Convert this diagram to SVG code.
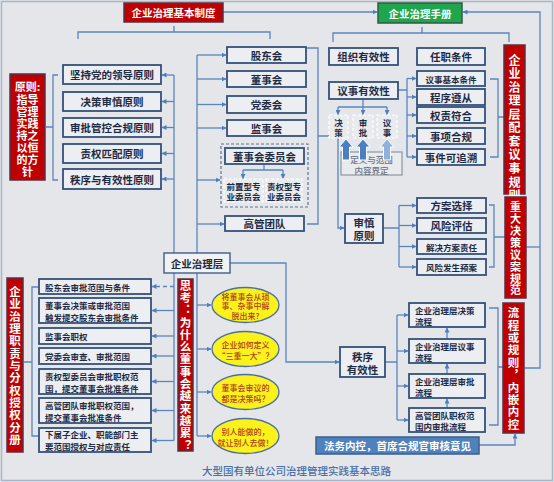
<svg xmlns="http://www.w3.org/2000/svg" width="554" height="482" viewBox="0 0 554 482">
<defs>
<style>
.bx{fill:#eceef2;stroke:#34507a;stroke-width:1.8}
.dbx{fill:#e9ebef;stroke:#ffffff;stroke-width:1.2;stroke-dasharray:3 2}
.red{fill:#c00000;stroke:#5a3045;stroke-width:1.5}
.c{fill:none;stroke:#5a86c0;stroke-width:1.3}
.ca{fill:none;stroke:#5a86c0;stroke-width:1.3;marker-end:url(#ah)}
.t{font-family:"Noto Sans CJK SC","Noto Sans",sans-serif;fill:#1e2b45;font-weight:700;font-size:10.5px;text-anchor:middle;dominant-baseline:central}
.s{font-size:8.5px}
.l{text-anchor:start}
.w{fill:#ffffff}
.vt{font-family:"Noto Sans CJK SC","Noto Sans",sans-serif;fill:#ffffff;font-weight:700;writing-mode:vertical-rl;text-anchor:start}
.e{fill:#fbf21c;stroke:#4a6fa5;stroke-width:1.3}
.et{font-size:8px;fill:#b0401e;font-weight:500}
.ua{fill:#4a7fc1;stroke:#ffffff;stroke-width:1}
</style>
<marker id="ah" viewBox="0 0 10 10" refX="9" refY="5" markerWidth="5" markerHeight="5" markerUnits="userSpaceOnUse" orient="auto">
<path d="M0,0 L10,5 L0,10 z" fill="#4f7fc0"/>
</marker>
</defs>
<rect x="0" y="0" width="554" height="482" fill="#e4e6e9"/>
<rect x="1.5" y="1.5" width="551" height="479" fill="none" stroke="#a8b6c9" stroke-width="1.5"/>

<g id="connectors">
<path class="ca" d="M223,12 H377"/>
<path class="ca" d="M525,368 H540 V12 H463"/>
<path class="c" d="M526,247 H540"/>
<path class="c" d="M78,39 V32 H270 V39 M174,26 V32"/>
<path class="c" d="M333,42 V33 H509 V42 M422,27 V33"/>
<path class="c" d="M174,75 V253"/>
<path class="ca" d="M174,75 H162"/>
<path class="ca" d="M174,101.5 H162"/>
<path class="ca" d="M174,127.5 H162"/>
<path class="ca" d="M174,153.5 H162"/>
<path class="ca" d="M174,179 H162"/>
<path class="c" d="M197,55 V253"/>
<path class="ca" d="M197,55 H226"/>
<path class="ca" d="M197,79 H226"/>
<path class="ca" d="M197,104.5 H226"/>
<path class="ca" d="M197,128 H226"/>
<path class="ca" d="M197,180 H220"/>
<path class="ca" d="M197,224 H224"/>
<path class="c" d="M58,75 H53 V180 H58 M53,127 H46"/>
<path class="c" d="M307,48 H318 V224 H307 M318,136 H329"/>
<path class="c" d="M264,164 V170 M243,170 H283"/>
<path class="ca" d="M243,170 V178.5"/>
<path class="ca" d="M283,170 V178.5"/>
<path class="c" d="M363,99 V107 M338,107 H387"/>
<path class="ca" d="M338,107 V114.5"/>
<path class="ca" d="M363,107 V114.5"/>
<path class="ca" d="M387,107 V114.5"/>
<path class="ca" d="M338,138 V228 H344"/>
<path class="c" d="M398,90 H407 M407,78.5 V157"/>
<path class="ca" d="M407,78.5 H416"/>
<path class="ca" d="M407,97 H416"/>
<path class="ca" d="M407,115 H416"/>
<path class="ca" d="M407,136 H416"/>
<path class="ca" d="M407,157 H416"/>
<path class="c" d="M490,79 H498 V157 H490 M498,117 H504"/>
<path class="c" d="M383,228 H399 M399,205.5 V267"/>
<path class="ca" d="M399,205.5 H416"/>
<path class="ca" d="M399,225.5 H416"/>
<path class="ca" d="M399,246.5 H416"/>
<path class="ca" d="M399,267 H416"/>
<path class="c" d="M489,205 H494 V267 H489 M494,237 H505"/>
<path class="ca" d="M230,263 H286 V362 H339"/>
<path class="c" d="M385,362 H397 M397,315 V420"/>
<path class="ca" d="M397,315 H408"/>
<path class="ca" d="M397,351 H408"/>
<path class="ca" d="M397,386 H408"/>
<path class="ca" d="M397,420 H408"/>
<path class="ca" d="M447,408 V399"/>
<path class="ca" d="M447,374 V364"/>
<path class="ca" d="M447,339 V328"/>
<path class="c" d="M489,308 H498 V425 H489 M498,367 H503"/>
<path class="ca" d="M479,445 H515 V434"/>
<path class="c" d="M174,273 V440.5"/>
<path class="ca" d="M174,286.5 H152" stroke-dasharray="4 3"/>
<path class="ca" d="M174,310.5 H152"/>
<path class="ca" d="M174,336 H152"/>
<path class="ca" d="M174,356 H152"/>
<path class="ca" d="M174,381.5 H152"/>
<path class="ca" d="M174,410.5 H152"/>
<path class="ca" d="M174,440.5 H152"/>
<path class="c" d="M197,273 V436"/>
<path class="ca" d="M197,305 H211"/>
<path class="ca" d="M197,349 H211"/>
<path class="ca" d="M197,392 H211"/>
<path class="ca" d="M197,436 H211"/>
<path class="c" d="M40,287 H32 V436 H40 M32,362 H24"/>
</g>

<g id="n-jbzd"><rect x="124" y="3" width="99" height="19" class="red"/><text class="t w" x="173.5" y="12.5">企业治理基本制度</text></g>
<g id="n-sc"><rect x="378" y="3" width="84" height="20" fill="#1fa64d" stroke="#2f5a45" stroke-width="1.5"/><text class="t w" x="420" y="13">企业治理手册</text></g>

<g id="n-yz"><rect x="10" y="74" width="35" height="106" class="red"/>
<text class="t w" style="font-size:11px"><tspan x="27.5" y="86">原则:</tspan><tspan x="27.5" y="98.5">指导</tspan><tspan x="27.5" y="110.5">管理</tspan><tspan x="27.5" y="122.5">实践</tspan><tspan x="27.5" y="135">持之</tspan><tspan x="27.5" y="147">以恒</tspan><tspan x="27.5" y="159">的方</tspan><tspan x="27.5" y="171">针</tspan></text></g>

<g id="n-p1"><rect x="63" y="65" width="98" height="19" class="bx"/><text class="t" x="112" y="74.5">坚持党的领导原则</text></g>
<g id="n-p2"><rect x="63" y="92" width="98" height="19" class="bx"/><text class="t" x="112" y="101.5">决策审慎原则</text></g>
<g id="n-p3"><rect x="63" y="118" width="98" height="19" class="bx"/><text class="t" x="112" y="127.5">审批管控合规原则</text></g>
<g id="n-p4"><rect x="63" y="144" width="98" height="19" class="bx"/><text class="t" x="112" y="153.5">责权匹配原则</text></g>
<g id="n-p5"><rect x="63" y="169" width="98" height="20" class="bx"/><text class="t" x="112" y="179">秩序与有效性原则</text></g>

<g id="n-gdh"><rect x="227" y="47" width="79" height="16" class="bx"/><text class="t" x="266.5" y="55">股东会</text></g>
<g id="n-dsh"><rect x="227" y="71" width="79" height="16" class="bx"/><text class="t" x="266.5" y="79">董事会</text></g>
<g id="n-dwh"><rect x="227" y="96" width="79" height="17" class="bx"/><text class="t" x="266.5" y="104.5">党委会</text></g>
<g id="n-jsh"><rect x="227" y="120" width="79" height="16" class="bx"/><text class="t" x="266.5" y="128">监事会</text></g>

<g id="n-wyh">
<rect x="221" y="144" width="87" height="63" fill="none" stroke="#5d7396" stroke-width="1.2" stroke-dasharray="3 2"/>
<rect x="225" y="148" width="79" height="16" class="bx"/><text class="t" x="264.5" y="156">董事会委员会</text>
</g>
<g id="n-qzx"><rect x="224" y="179" width="39" height="23" class="dbx"/><text class="t s"><tspan x="243.5" y="186">前置型专</tspan><tspan x="243.5" y="196">业委员会</tspan></text></g>
<g id="n-zqx"><rect x="266" y="179" width="36" height="23" class="dbx"/><text class="t s"><tspan x="284" y="186">责权型专</tspan><tspan x="284" y="196">业委员会</tspan></text></g>
<g id="n-ggtd"><rect x="225" y="216" width="79" height="15" class="bx"/><text class="t" x="264.5" y="223.5">高管团队</text></g>

<g id="n-zzyx"><rect x="329" y="48" width="69" height="17" class="bx"/><text class="t" x="363.5" y="56.5">组织有效性</text></g>
<g id="n-rztj"><rect x="417" y="48" width="68" height="17" class="bx"/><text class="t" x="451" y="56.5">任职条件</text></g>
<g id="n-ysyx"><rect x="329" y="82" width="69" height="17" class="bx"/><text class="t" x="363.5" y="90.5">议事有效性</text></g>
<g id="n-ys1"><rect x="417" y="71" width="68" height="15" class="bx"/><text class="t s" x="451" y="78.5">议事基本条件</text></g>
<g id="n-ys2"><rect x="417" y="89" width="68" height="16" class="bx"/><text class="t" x="451" y="97">程序遵从</text></g>
<g id="n-ys3"><rect x="417" y="107" width="68" height="16" class="bx"/><text class="t" x="451" y="115">权责符合</text></g>
<g id="n-ys4"><rect x="417" y="128" width="68" height="16" class="bx"/><text class="t" x="451" y="136">事项合规</text></g>
<g id="n-ys5"><rect x="417" y="149" width="68" height="16" class="bx"/><text class="t" x="451" y="157">事件可追溯</text></g>

<g id="n-jc"><rect x="329" y="115" width="19" height="23" class="dbx"/><text class="t s"><tspan x="338.5" y="121.5">决</tspan><tspan x="338.5" y="132">策</tspan></text></g>
<g id="n-sp"><rect x="353" y="115" width="20" height="23" class="dbx"/><text class="t s"><tspan x="363" y="121.5">审</tspan><tspan x="363" y="132">批</tspan></text></g>
<g id="n-ys"><rect x="377" y="115" width="20" height="23" class="dbx"/><text class="t s"><tspan x="387" y="121.5">议</tspan><tspan x="387" y="132">事</tspan></text></g>

<g id="n-dy">
<rect x="341" y="152" width="61" height="23" fill="#e9ebee" stroke="#8d96a6" stroke-width="1.2"/>
<text class="t s" style="fill:#6b7282;font-weight:500"><tspan x="371.5" y="159">定义与范围</tspan><tspan x="371.5" y="169.5">内容界定</tspan></text>
<polygon class="ua" points="342.5,160 342.5,147 339,147 346,139 353,147 349.5,147 349.5,160"/>
<polygon class="ua" points="359.5,160 359.5,147 356,147 363,139 370,147 366.5,147 366.5,160"/>
<polygon class="ua" points="383.5,160 383.5,147 380,147 387,139 394,147 390.5,147 390.5,160" style="fill:#8fb1da"/>
</g>

<g id="n-gz1"><rect x="504" y="45" width="21" height="149" class="red"/>
<text class="vt" x="514.5" y="54" style="font-size:12px;letter-spacing:1.55px">企业治理层配套议事规则</text>
</g>

<g id="n-sjyz"><rect x="345" y="214" width="38" height="29" class="bx"/><text class="t"><tspan x="364" y="222">审慎</tspan><tspan x="364" y="235">原则</tspan></text></g>
<g id="n-sj1"><rect x="417" y="198" width="69" height="15" class="bx"/><text class="t" x="451.5" y="205.5">方案选择</text></g>
<g id="n-sj2"><rect x="417" y="218" width="69" height="15" class="bx"/><text class="t" x="451.5" y="225.5">风险评估</text></g>
<g id="n-sj3"><rect x="417" y="239" width="69" height="15" class="bx"/><text class="t s" x="451.5" y="246.5">解决方案责任</text></g>
<g id="n-sj4"><rect x="417" y="259" width="69" height="16" class="bx"/><text class="t s" x="451.5" y="267">风险发生预案</text></g>

<g id="n-gz2"><rect x="505" y="197" width="21" height="101" class="red"/>
<text class="vt" x="515.5" y="201.5" style="font-size:11px;letter-spacing:0.9px">重大决策议案规范</text>
</g>

<g id="n-zlc"><rect x="164" y="253" width="66" height="20" fill="#f1f2f4" stroke="#4a6790" stroke-width="1.5"/><text class="t" x="197" y="263">企业治理层</text></g>

<g id="n-zxyx"><rect x="340" y="347" width="45" height="30" class="bx"/><text class="t"><tspan x="362.5" y="355.5">秩序</tspan><tspan x="362.5" y="368.5">有效性</tspan></text></g>
<g id="n-lc1"><rect x="409" y="303" width="76" height="24" class="bx"/><text class="t s l"><tspan x="415" y="309.5">企业治理层决策</tspan><tspan x="415" y="320.5">流程</tspan></text></g>
<g id="n-lc2"><rect x="409" y="339" width="76" height="24" class="bx"/><text class="t s l"><tspan x="415" y="345.5">企业治理层议事</tspan><tspan x="415" y="356.5">流程</tspan></text></g>
<g id="n-lc3"><rect x="409" y="374" width="76" height="24" class="bx"/><text class="t s l"><tspan x="415" y="380.5">企业治理层审批</tspan><tspan x="415" y="391.5">流程</tspan></text></g>
<g id="n-lc4"><rect x="409" y="408" width="76" height="24" class="bx"/><text class="t s l"><tspan x="415" y="414.5">高管团队职权范</tspan><tspan x="415" y="425.5">围内审批流程</tspan></text></g>

<g id="n-gz3"><rect x="503" y="303" width="21" height="130" class="red"/>
<text class="vt" x="513.5" y="307" style="font-size:11.5px;letter-spacing:0.9px">流程或规则，内嵌内控</text>
</g>

<g id="n-fw"><rect x="316" y="437" width="163" height="17" fill="#4f81bd" stroke="#3a5f8f" stroke-width="1.5"/><text class="t w" x="397.5" y="445.5">法务内控，首席合规官审核意见</text></g>

<g id="n-fc"><rect x="7" y="278" width="16" height="174" class="red"/>
<text class="vt" x="15" y="286" style="font-size:11.5px;letter-spacing:0.83px">企业治理职责与分权授权分册</text>
</g>

<g id="n-f1"><rect x="39" y="279" width="112" height="15" class="bx"/><text class="t s l" x="45" y="286.5">股东会审批范围与条件</text></g>
<g id="n-f2"><rect x="39" y="298" width="112" height="25" class="bx"/><text class="t s l"><tspan x="45" y="304.5">董事会决策或审批范围</tspan><tspan x="45" y="316.5">触发提交股东会审批条件</tspan></text></g>
<g id="n-f3"><rect x="39" y="328" width="112" height="16" class="bx"/><text class="t s l" x="45" y="336">监事会职权</text></g>
<g id="n-f4"><rect x="39" y="348" width="112" height="16" class="bx"/><text class="t s l" x="45" y="356">党委会审查、审批范围</text></g>
<g id="n-f5"><rect x="39" y="369" width="112" height="25" class="bx"/><text class="t s l"><tspan x="45" y="375.5">责权型委员会审批职权范</tspan><tspan x="45" y="387.5">围，提交董事会批准条件</tspan></text></g>
<g id="n-f6"><rect x="39" y="398" width="112" height="25" class="bx"/><text class="t s l"><tspan x="45" y="404.5">高管团队审批职权范围，</tspan><tspan x="45" y="416.5">提交董事会批准条件</tspan></text></g>
<g id="n-f7"><rect x="39" y="428" width="112" height="24" class="bx"/><text class="t s l"><tspan x="45" y="434">下属子企业、职能部门主</tspan><tspan x="45" y="446">要范围授权与对应责任</tspan></text></g>

<g id="n-sk"><rect x="178" y="279" width="15" height="172" class="red"/>
<text class="vt" x="185.5" y="279.5" style="font-size:11.5px;letter-spacing:0.8px">思考：为什么董事会越来越累？</text>
</g>

<g id="n-q1"><ellipse cx="245.5" cy="305" rx="33.5" ry="17.5" class="e"/><text class="t et"><tspan x="245.5" y="295.5">将董事会从琐</tspan><tspan x="245.5" y="305">事、杂事中解</tspan><tspan x="245.5" y="314.5">脱出来?</tspan></text></g>
<g id="n-q2"><ellipse cx="245.5" cy="349" rx="33.5" ry="17.5" class="e"/><text class="t et"><tspan x="245.5" y="344">企业如何定义</tspan><tspan x="245.5" y="355">“三重一大”？</tspan></text></g>
<g id="n-q3"><ellipse cx="245.5" cy="392" rx="33.5" ry="17.5" class="e"/><text class="t et"><tspan x="245.5" y="387">董事会审议的</tspan><tspan x="245.5" y="398">都是决策吗？</tspan></text></g>
<g id="n-q4"><ellipse cx="245.5" cy="436" rx="33.5" ry="17.5" class="e"/><text class="t et"><tspan x="245.5" y="431">别人能做的，</tspan><tspan x="245.5" y="442">就让别人去做！</tspan></text></g>

<text class="t l" x="202" y="470" style="font-size:10.5px;fill:#4a6fa8;font-weight:500">大型国有单位公司治理管理实践基本思路</text>
</svg>
